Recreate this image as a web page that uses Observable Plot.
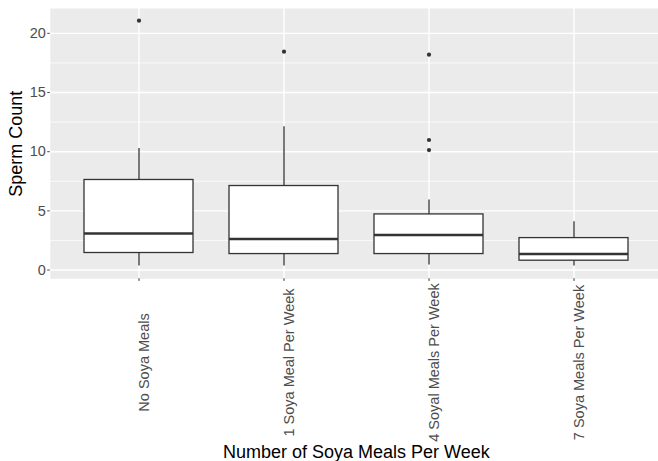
<!DOCTYPE html>
<html>
<head>
<meta charset="utf-8">
<script src="https://cdn.jsdelivr.net/npm/d3@7"></script>
<script src="https://cdn.jsdelivr.net/npm/@observablehq/plot@0.6"></script>
<style>
  html, body { margin: 0; padding: 0; background: #fff; overflow: hidden; }
  svg { font-family: "Liberation Sans", Arial, Helvetica, sans-serif; }
</style>
</head>
<body>
<div id="chart"></div>
<script>
const categories = ["No Soya Meals", "1 Soya Meal Per Week", "4 Soyal Meals Per Week", "7 Soya Meals Per Week"];
const whiskerLow = [0.35, 0.35, 0.42, 0.34];
const q1 = [1.44, 1.35, 1.35, 0.79];
const medians = [3.09, 2.62, 2.96, 1.35];
const q3 = [7.61, 7.10, 4.70, 2.70];
const whiskerHigh = [10.28, 12.11, 5.92, 4.08];
const outlierCategory = ["No Soya Meals", "1 Soya Meal Per Week", "4 Soyal Meals Per Week", "4 Soyal Meals Per Week", "4 Soyal Meals Per Week"];
const outlierValues = [21.07, 18.45, 18.2, 10.99, 10.14];
const yTicks = [0, 5, 10, 15, 20];
const yMinor = [2.5, 7.5, 12.5, 17.5];
const xTitle = "Number of Soya Meals Per Week";
const yTitle = "Sperm Count";

const boxes = categories.map((c, i) => ({
  cat: c, lo: whiskerLow[i], q1: q1[i], med: medians[i], q3: q3[i], hi: whiskerHigh[i]
}));
const outliers = outlierValues.map((v, i) => ({cat: outlierCategory[i], v}));

const W = 658, H = 461;
const chart = Plot.plot({
  width: W,
  height: H,
  marginLeft: 49.8,
  marginRight: -3.8,
  marginTop: 8,
  marginBottom: 182.7,
  style: {background: "transparent", fontFamily: "'Liberation Sans', Arial, sans-serif"},
  x: {type: "band", domain: categories, paddingInner: 0.25, paddingOuter: 0.225, axis: null},
  y: {domain: [-0.74, 22.1], axis: null},
  marks: [
    Plot.frame({fill: "#EBEBEB", stroke: null}),
    Plot.ruleY(yMinor, {stroke: "#FFFFFF", strokeWidth: 0.75}),
    Plot.ruleY(yTicks, {stroke: "#FFFFFF", strokeWidth: 1.4}),
    Plot.ruleX(categories, {stroke: "#FFFFFF", strokeWidth: 1.4}),
    Plot.axisY({ticks: yTicks, tickSize: 2.6, tickPadding: 1.8, fontSize: 14.5, color: "#4D4D4D", label: null}),
    Plot.axisX({tickSize: 2.6, tickFormat: () => "", color: "#333333", label: null}),
    Plot.ruleX(boxes, {x: "cat", y1: "lo", y2: "q1", stroke: "#333333", strokeWidth: 1.3}),
    Plot.ruleX(boxes, {x: "cat", y1: "q3", y2: "hi", stroke: "#333333", strokeWidth: 1.3}),
    Plot.barY(boxes, {x: "cat", y1: "q1", y2: "q3", fill: "#FFFFFF", stroke: "#333333", strokeWidth: 1.3}),
    Plot.tickY(boxes, {x: "cat", y: "med", stroke: "#333333", strokeWidth: 2.6}),
    Plot.dot(outliers, {x: "cat", y: "v", r: 2.1, fill: "#333333", stroke: null}),
    Plot.text(categories, {x: d => d, frameAnchor: "bottom", dy: 83.7, rotate: -90, textAnchor: "middle", lineAnchor: "top", fontSize: 14.5, fill: "#4D4D4D"}),
    Plot.text([xTitle], {frameAnchor: "bottom", dy: 173, dx: 0, fontSize: 18, fill: "#000000", textAnchor: "middle", lineAnchor: "middle"}),
    Plot.text([yTitle], {frameAnchor: "left", dx: -34, rotate: -90, fontSize: 18, fill: "#000000", textAnchor: "middle", lineAnchor: "middle"})
  ]
});
document.getElementById("chart").appendChild(chart);
</script>
</body>
</html>
